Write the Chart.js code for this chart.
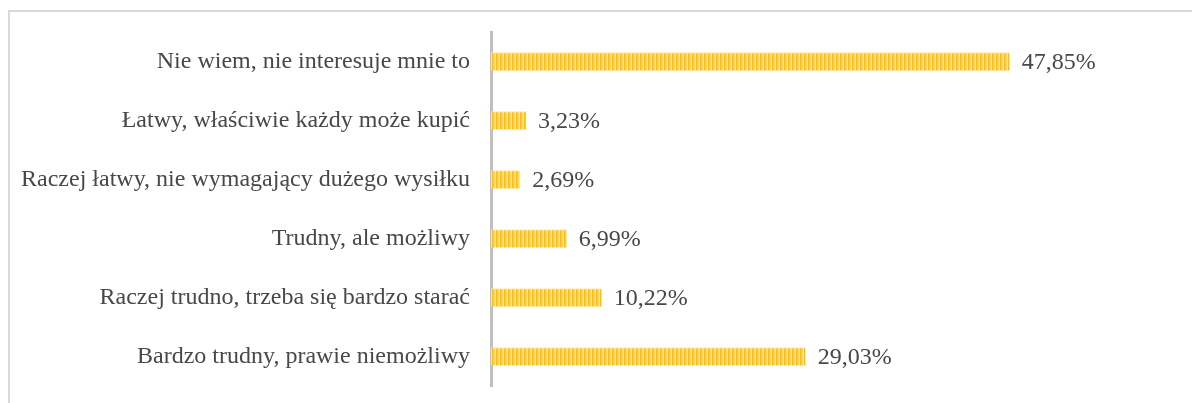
<!DOCTYPE html>
<html>
<head>
<meta charset="utf-8">
<script src="https://cdn.jsdelivr.net/npm/chart.js@4/dist/chart.umd.min.js"></script>
<style>
  html, body { margin: 0; padding: 0; background: #fff; overflow: hidden; }
  #wrap { position: relative; width: 1192px; height: 403px; }
  #frame { position: absolute; left: 8px; top: 10px; width: 1300px; height: 500px; border: 2px solid #d9d9d9; box-sizing: border-box; }
  canvas { position: absolute; left: 0; top: 0; }
</style>
</head>
<body>
<div id="wrap">
  <div id="frame"></div>
  <canvas id="chart" width="1192" height="403"></canvas>
</div>
<script>
// Survey answers, top to bottom
const categories = [
  "Nie wiem, nie interesuje mnie to",
  "Łatwy, właściwie każdy może kupić",
  "Raczej łatwy, nie wymagający dużego wysiłku",
  "Trudny, ale możliwy",
  "Raczej trudno, trzeba się bardzo starać",
  "Bardzo trudny, prawie niemożliwy"
];
const shares = [47.85, 3.23, 2.69, 6.99, 10.22, 29.03];

const FONT = "'Liberation Serif', 'Times New Roman', serif";
const TEXT = "#484848";

// Striped yellow fill for the bars
function stripePattern() {
  const c = document.createElement("canvas");
  c.width = 4; c.height = 4;
  const g = c.getContext("2d");
  g.fillStyle = "#FFC000";
  g.fillRect(0, 0, 4, 4);
  g.fillStyle = "#FFD75E";
  g.fillRect(2, 0, 1, 4);
  g.fillStyle = "#FFE597";
  g.fillRect(3, 0, 1, 4);
  g.fillStyle = "#FFCB33";
  g.fillRect(1, 0, 1, 4);
  return g.createPattern(c, "repeat");
}

// Percent labels right of each bar
const valueLabels = {
  id: "valueLabels",
  afterDatasetsDraw(chart) {
    const ctx = chart.ctx;
    const meta = chart.getDatasetMeta(0);
    ctx.save();
    ctx.font = "24px " + FONT;
    ctx.fillStyle = TEXT;
    ctx.textAlign = "left";
    ctx.textBaseline = "middle";
    meta.data.forEach((bar, i) => {
      const txt = shares[i].toFixed(2).replace(".", ",") + "%";
      ctx.fillText(txt, bar.x + 12, bar.y + 1);
    });
    ctx.restore();
  }
};

const ctx = document.getElementById("chart").getContext("2d");
new Chart(ctx, {
  type: "bar",
  data: {
    labels: categories,
    datasets: [{
      data: shares,
      backgroundColor: stripePattern(),
      borderColor: "#FFE7A8",
      borderWidth: { top: 1, right: 0, bottom: 0, left: 0 },
      borderSkipped: false,
      barPercentage: 0.31,
      categoryPercentage: 1
    }]
  },
  options: {
    indexAxis: "y",
    responsive: false,
    animation: false,
    layout: { padding: { left: 0, right: 159, top: 32, bottom: 17 } },
    plugins: { legend: { display: false }, tooltip: { enabled: false } },
    scales: {
      x: {
        min: 0, max: 50,
        display: false
      },
      y: {
        grid: { display: false, drawTicks: false },
        border: { display: true, color: "#BFBFBF", width: 3 },
        ticks: { color: TEXT, font: { family: FONT, size: 24 }, padding: 21 },
        afterFit(scale) {
          scale.width = 491;
          // labels sit inside the category bands, no extra room needed above/below
          scale.paddingTop = 0;
          scale.paddingBottom = 0;
        }
      }
    }
  },
  plugins: [valueLabels]
});
</script>
</body>
</html>
